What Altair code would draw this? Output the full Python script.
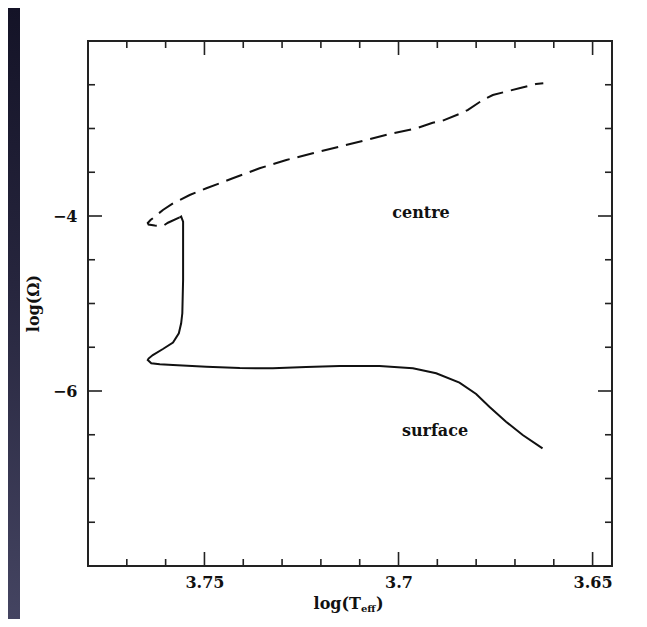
import altair as alt
import pandas as pd

# ---- data ----
centre_logTeff = [3.7564, 3.7594, 3.7607, 3.7628, 3.7644, 3.7646, 3.7639, 3.7628, 3.7607, 3.7581,
                  3.7538, 3.7495, 3.7427, 3.7358, 3.7289, 3.7221, 3.7152, 3.7083, 3.7015, 3.6954,
                  3.6912, 3.6886, 3.6839, 3.6822, 3.6783, 3.6757, 3.6714, 3.6689, 3.6646, 3.6627]
centre_logOmega = [-4.015, -4.077, -4.114, -4.109, -4.097, -4.080, -4.046, -4.008, -3.931, -3.855,
                   -3.760, -3.683, -3.569, -3.455, -3.360, -3.283, -3.208, -3.131, -3.055, -2.998,
                   -2.934, -2.911, -2.826, -2.789, -2.674, -2.617, -2.568, -2.541, -2.491, -2.483]

surface_logTeff = [3.7564, 3.7560, 3.7555, 3.7555, 3.7555, 3.7557, 3.7560, 3.7566, 3.7581, 3.7607,
                   3.7633, 3.7644, 3.7646, 3.7637, 3.7615, 3.7581, 3.7495, 3.7409, 3.7324, 3.7238,
                   3.7152, 3.7049, 3.6963, 3.6903, 3.6843, 3.6800, 3.6766, 3.6723, 3.6680, 3.6629]
surface_logOmega = [-4.017, -4.006, -4.065, -4.351, -4.731, -5.112, -5.226, -5.341, -5.446, -5.520,
                    -5.589, -5.629, -5.646, -5.683, -5.695, -5.703, -5.722, -5.737, -5.741, -5.726,
                    -5.714, -5.714, -5.741, -5.798, -5.905, -6.034, -6.179, -6.351, -6.503, -6.655]

x_ticks_major = [3.75, 3.7, 3.65]
x_ticks_minor = [3.77, 3.76, 3.74, 3.73, 3.72, 3.71, 3.69, 3.68, 3.67, 3.66]
y_ticks_major = [-4, -6]
y_ticks_minor = [-2.5, -3, -3.5, -4.5, -5, -5.5, -6.5, -7, -7.5]

x_domain = [3.645, 3.78]
y_domain = [-8, -2]

# ---- layout / style ----
W, H = 524, 525
FONT = "DejaVu Serif"
INK = "#111111"
FRAME = "#222222"
MAJ, MIN = 14, 7

xs = alt.Scale(domain=x_domain, reverse=True, nice=False, zero=False)
ys = alt.Scale(domain=y_domain, nice=False, zero=False)

centre = pd.DataFrame({"T": centre_logTeff, "O": centre_logOmega,
                       "i": list(range(len(centre_logTeff)))})
surface = pd.DataFrame({"T": surface_logTeff, "O": surface_logOmega,
                        "i": list(range(len(surface_logTeff)))})

x_axis = alt.Axis(values=x_ticks_major, labelExpr="format(datum.value, '.2~f')",
                  title=None, ticks=False, tickSize=0, domain=False, grid=False,
                  labelFont=FONT, labelFontSize=16, labelFontWeight="bold",
                  labelColor=INK, labelPadding=8, labelFlush=False)
y_axis = alt.Axis(values=y_ticks_major, format="d", title=None, ticks=False, tickSize=0,
                  domain=False, grid=False, labelFont=FONT, labelFontSize=16,
                  labelFontWeight="bold", labelColor=INK, labelPadding=11, labelFlush=False)

one = pd.DataFrame({"a": [0]})

strip = alt.Chart(one).mark_rect(
    fill=alt.Gradient(gradient="linear",
                      stops=[alt.GradientStop(color="#141327", offset=0),
                             alt.GradientStop(color="#26253d", offset=0.45),
                             alt.GradientStop(color="#444461", offset=1)],
                      x1=0, x2=0, y1=0, y2=1)
).encode(x=alt.value(-80), x2=alt.value(-68), y=alt.value(-33), y2=alt.value(H + 53))

line_centre = alt.Chart(centre).mark_line(
    color=INK, strokeWidth=2, strokeDash=[17, 8]
).encode(x=alt.X("T:Q", scale=xs, axis=x_axis),
         y=alt.Y("O:Q", scale=ys, axis=y_axis),
         order=alt.Order("i:Q"))

line_surface = alt.Chart(surface).mark_line(
    color=INK, strokeWidth=2
).encode(x=alt.X("T:Q", scale=xs, axis=x_axis),
         y=alt.Y("O:Q", scale=ys, axis=y_axis),
         order=alt.Order("i:Q"))


def xticks(vals, length):
    df = pd.DataFrame({"v": vals})
    b = alt.Chart(df).mark_rule(color=FRAME, strokeWidth=1.6)
    bottom = b.encode(x=alt.X("v:Q", scale=xs, axis=x_axis),
                      y=alt.value(H), y2=alt.value(H - length))
    top = b.encode(x=alt.X("v:Q", scale=xs, axis=x_axis),
                   y=alt.value(0), y2=alt.value(length))
    return [bottom, top]


def yticks(vals, length):
    df = pd.DataFrame({"v": vals})
    b = alt.Chart(df).mark_rule(color=FRAME, strokeWidth=1.6)
    left = b.encode(y=alt.Y("v:Q", scale=ys, axis=y_axis),
                    x=alt.value(0), x2=alt.value(length))
    right = b.encode(y=alt.Y("v:Q", scale=ys, axis=y_axis),
                     x=alt.value(W), x2=alt.value(W - length))
    return [left, right]


ticks = xticks(x_ticks_major, MAJ) + xticks(x_ticks_minor, MIN) + \
    yticks(y_ticks_major, MAJ) + yticks(y_ticks_minor, MIN)


def txt(s, x, y, size=16, align="center", angle=0):
    return alt.Chart(one).mark_text(
        text=s, font=FONT, fontSize=size, fontWeight="bold", color=INK,
        align=align, baseline="middle", angle=angle
    ).encode(x=alt.value(x), y=alt.value(y))


labels = [
    txt("centre", 333, 172),
    txt("surface", 347, 390),
    # x title: log(T_eff)
    txt("log(T", 273, 563, align="right"),
    txt("eff", 273, 568, size=10, align="left"),
    txt(")", 288, 563, align="left"),
    # y title
    txt("log(Ω)", -54, H / 2, angle=270),
]

chart = alt.layer(strip, line_centre, line_surface, *ticks, *labels).properties(
    width=W, height=H, autosize="none",
    padding={"left": 80, "top": 33, "right": 26, "bottom": 53},
    background="white"
).configure_view(stroke=FRAME, strokeWidth=2)

chart.save("out.html", embed_options={"renderer": "svg", "actions": False})
